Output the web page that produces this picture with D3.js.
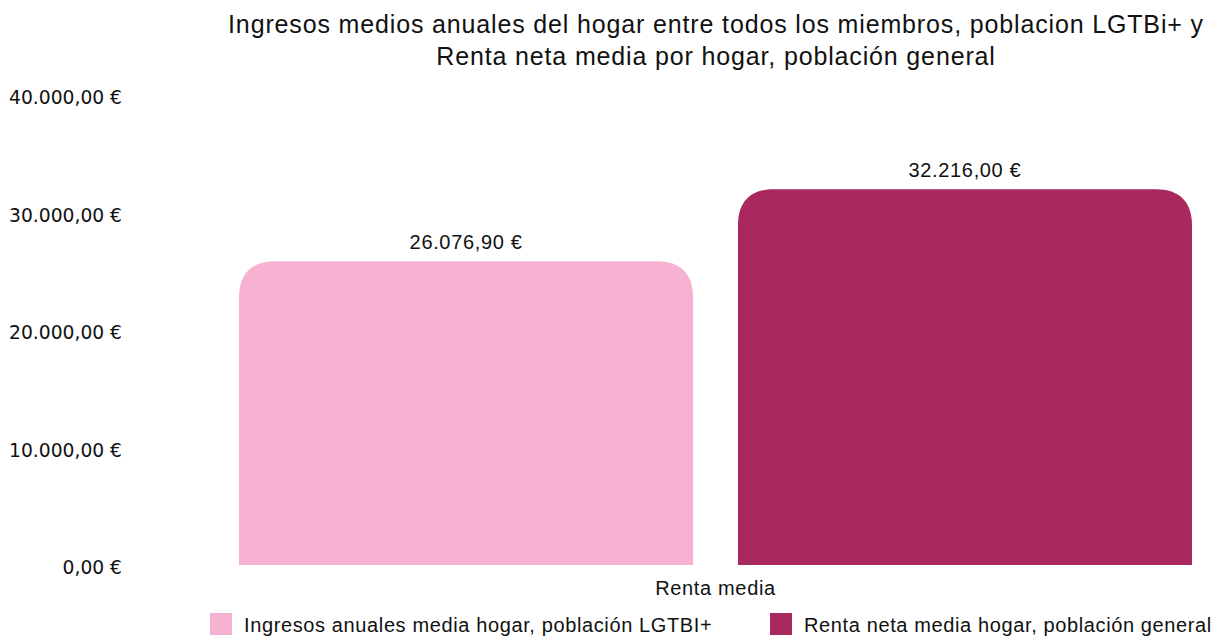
<!DOCTYPE html>
<html>
<head>
<meta charset="utf-8">
<script src="https://cdn.jsdelivr.net/npm/d3@7"></script>
<style>
  html, body { margin: 0; padding: 0; background: #fff; }
  svg { display: block; }
</style>
</head>
<body>
<svg id="chart" width="1217" height="637"></svg>
<script>
// Chart data
const titleLines = [
  "Ingresos medios anuales del hogar entre todos los miembros, poblacion LGTBi+ y",
  "Renta neta media por hogar, población general"
];
const category = "Renta media";
const seriesNames = [
  "Ingresos anuales media hogar, población LGTBI+",
  "Renta neta media hogar, población general"
];
const seriesValues = [26076.90, 32216.00];
const seriesColors = ["#F8B2D1", "#A9295F"];
const yTicks = [0, 10000, 20000, 30000, 40000];

const svg = d3.select("#chart");
const FONT = "Liberation Sans, Arial, sans-serif";

// Spanish-style euro formatting: 32.216,00 €
const esLocale = d3.formatLocale({ decimal: ",", thousands: ".", grouping: [3], currency: ["", " €"] });
const fmtEuro = v => esLocale.format(",.2f")(v) + " €";

const y = d3.scaleLinear().domain([0, 40000]).range([568, 97.6]);
const baseGap = 3; // bars stop just above the zero line
const x0 = d3.scaleBand().domain([category]).range([239, 1192]);
const x1 = d3.scaleBand().domain(seriesNames).range([0, x0.bandwidth()]).paddingInner(0.09).paddingOuter(0);

// Title
svg.append("g").selectAll("text").data(titleLines).join("text")
  .attr("x", 716).attr("y", (d, i) => 33 + i * 32)
  .attr("text-anchor", "middle")
  .attr("font-family", FONT)
  .attr("font-size", 25).attr("letter-spacing", 0.85).attr("fill", "#111")
  .text(d => d);

// Y axis labels (no axis line or ticks drawn)
const yAxis = d3.axisLeft(y).tickValues(yTicks).tickFormat(fmtEuro).tickSize(0).tickPadding(0);
const yg = svg.append("g").attr("transform", "translate(122,0)").call(yAxis);
yg.select(".domain").remove();
yg.selectAll("text")
  .attr("font-family", "DejaVu Sans, Verdana, sans-serif")
  .attr("font-size", 18.7).attr("fill", "#111");

// Bar path with rounded top corners only
function topRounded(x, yTop, w, yBase, r) {
  const rr = Math.min(r, w / 2, (yBase - yTop));
  const k = 0.35;
  return `M${x},${yBase}V${yTop + rr}` +
    `C${x},${yTop + rr * k} ${x + rr * k},${yTop} ${x + rr},${yTop}` +
    `H${x + w - rr}` +
    `C${x + w - rr * k},${yTop} ${x + w},${yTop + rr * k} ${x + w},${yTop + rr}` +
    `V${yBase}Z`;
}

const bars = seriesNames.map((name, i) => ({ name, value: seriesValues[i], color: seriesColors[i] }));
const gBars = svg.append("g").attr("transform", `translate(${x0(category)},0)`);
gBars.selectAll("path").data(bars).join("path")
  .attr("d", d => topRounded(x1(d.name), y(d.value), x1.bandwidth(), y(0) - baseGap, 36))
  .attr("fill", d => d.color);

// Value labels
gBars.selectAll("text").data(bars).join("text")
  .attr("x", d => x1(d.name) + x1.bandwidth() / 2)
  .attr("y", d => y(d.value) - 12)
  .attr("text-anchor", "middle")
  .attr("font-family", FONT)
  .attr("font-size", 20).attr("letter-spacing", 0.65).attr("fill", "#111")
  .text(d => fmtEuro(d.value));

// Category label
svg.append("text")
  .attr("x", x0(category) + x0.bandwidth() / 2).attr("y", 595)
  .attr("text-anchor", "middle")
  .attr("font-family", FONT)
  .attr("font-size", 20).attr("letter-spacing", 0.65).attr("fill", "#111")
  .text(category);

// Legend
const legendX = [210, 770];
const lg = svg.append("g").selectAll("g").data(bars).join("g")
  .attr("transform", (d, i) => `translate(${legendX[i]},613)`);
lg.append("rect").attr("width", 22).attr("height", 22).attr("fill", d => d.color);
lg.append("text").attr("x", 34).attr("y", 19)
  .attr("font-family", FONT)
  .attr("font-size", 20).attr("letter-spacing", 0.62).attr("fill", "#111")
  .text(d => d.name);
</script>
</body>
</html>
